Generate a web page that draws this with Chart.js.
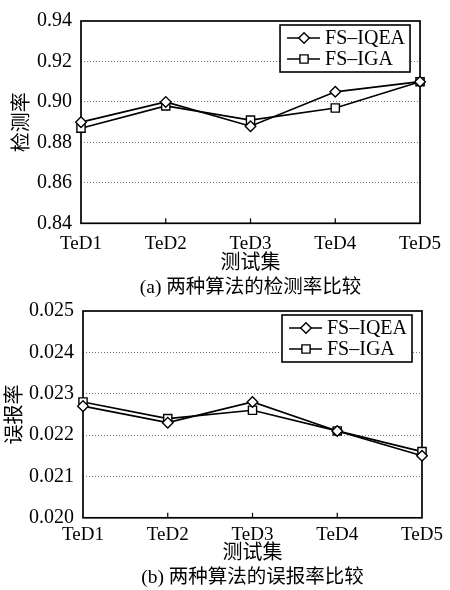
<!DOCTYPE html>
<html><head><meta charset="utf-8">
<script src="https://cdn.jsdelivr.net/npm/chart.js@4/dist/chart.umd.min.js"></script>
<style>
html,body{margin:0;padding:0;background:#fff;}
#wrap{position:relative;width:450px;height:590px;overflow:hidden;}
canvas{position:absolute;left:0;}
#c1{top:0;} #c2{top:290px;}
</style></head><body>
<div id="wrap"><canvas id="c1" width="450" height="300"></canvas><canvas id="c2" width="450" height="300"></canvas></div>
<script>
const categories = ['TeD1','TeD2','TeD3','TeD4','TeD5'];
const seriesNames = ['FS\u2013IQEA','FS\u2013IGA'];
const detectIQEA = [0.890, 0.900, 0.888, 0.905, 0.910];
const detectIGA  = [0.887, 0.898, 0.891, 0.897, 0.910];
const falseIQEA  = [0.0227, 0.0223, 0.0228, 0.0221, 0.0215];
const falseIGA   = [0.0228, 0.0224, 0.0226, 0.0221, 0.0216];
const detectTicks = [0.84, 0.86, 0.88, 0.90, 0.92, 0.94];
const detectTickLabels = ['0.84','0.86','0.88','0.90','0.92','0.94'];
const falseTicks = [0.020, 0.021, 0.022, 0.023, 0.024, 0.025];
const falseTickLabels = ['0.020','0.021','0.022','0.023','0.024','0.025'];
const xTitle = '测试集';
const captionA = '(a) 两种算法的检测率比较';
const captionB = '(b) 两种算法的误报率比较';
const yTitleA = '检测率';
const yTitleB = '误报率';

const FAM = "'Liberation Serif', 'Noto Sans CJK SC', serif";

function drawMarker(ctx, style, x, y, r) {
  ctx.beginPath();
  if (style === 'rectRot') {
    ctx.moveTo(x, y - r); ctx.lineTo(x + r, y); ctx.lineTo(x, y + r); ctx.lineTo(x - r, y); ctx.closePath();
  } else {
    const s = r * Math.SQRT1_2;
    ctx.rect(x - s, y - s, 2 * s, 2 * s);
  }
  ctx.fillStyle = '#fff'; ctx.fill();
  ctx.lineWidth = 1.4; ctx.strokeStyle = '#000'; ctx.stroke();
}

const framePlugin = {
  id: 'frameLegend',
  beforeDatasetsDraw(chart) {
    const a = chart.chartArea, ctx = chart.ctx;
    ctx.save();
    ctx.strokeStyle = '#000'; ctx.lineWidth = 1.7;
    ctx.strokeRect(a.left, a.top, a.right - a.left, a.bottom - a.top);
    const xs = chart.scales.x;
    ctx.lineWidth = 1.2;
    for (let i = 1; i < categories.length - 1; i++) {
      const px = xs.getPixelForValue(i);
      ctx.beginPath(); ctx.moveTo(px, a.bottom); ctx.lineTo(px, a.bottom - 5); ctx.stroke();
    }
    ctx.restore();
  },
  afterDatasetsDraw(chart) {
    const a = chart.chartArea, ctx = chart.ctx;
    const w = 130, h = 47;
    const bx = a.right - 10 - w, by = a.top + 4;
    ctx.save();
    ctx.fillStyle = '#fff'; ctx.fillRect(bx, by, w, h);
    ctx.strokeStyle = '#000'; ctx.lineWidth = 1.6; ctx.strokeRect(bx, by, w, h);
    chart.data.datasets.forEach((ds, i) => {
      const cy = by + 13 + i * 21;
      ctx.strokeStyle = '#000'; ctx.lineWidth = 1.7;
      ctx.beginPath(); ctx.moveTo(bx + 7, cy); ctx.lineTo(bx + 40, cy); ctx.stroke();
      drawMarker(ctx, ds.pointStyle, bx + 24, cy, ds.pointRadius);
      ctx.fillStyle = '#000'; ctx.font = '20px ' + FAM;
      ctx.textAlign = 'left'; ctx.textBaseline = 'middle';
      ctx.fillText(ds.label, bx + 45, cy + 1);
    });
    ctx.restore();
  }
};

function makeChart(id, cfg) {
  const last = cfg.ticks.length - 1;
  return new Chart(document.getElementById(id), {
    type: 'line',
    data: {
      labels: categories,
      datasets: [
        {label: seriesNames[0], data: cfg.s1, borderColor: '#000', borderWidth: 1.7,
         pointStyle: 'rectRot', pointRadius: 5.3, pointBackgroundColor: '#fff', pointBorderColor: '#000', pointBorderWidth: 1.4, tension: 0, fill: false},
        {label: seriesNames[1], data: cfg.s2, borderColor: '#000', borderWidth: 1.7,
         pointStyle: 'rect', pointRadius: 5.8, pointBackgroundColor: '#fff', pointBorderColor: '#000', pointBorderWidth: 1.4, tension: 0, fill: false}
      ]
    },
    options: {
      responsive: false, animation: false, devicePixelRatio: 1,
      layout: {padding: {top: 15, right: 28, left: 0, bottom: 0}},
      plugins: {
        legend: {display: false}, tooltip: {enabled: false},
        title: {display: true, fullSize: false, position: 'bottom', text: cfg.caption, color: '#000',
                font: {family: FAM, size: 19.5, weight: 'normal', lineHeight: 1.2}, padding: {top: 0, bottom: 0.8}}
      },
      scales: {
        x: {
          type: 'category', offset: false,
          grid: {display: false, drawTicks: false}, border: {display: false},
          ticks: {color: '#000', font: {family: FAM, size: 19}, padding: cfg.xPad, maxRotation: 0, minRotation: 0, autoSkip: false},
          title: {display: true, text: xTitle, color: '#000', font: {family: FAM, size: 20, lineHeight: 1.2}, padding: {top: 0, bottom: 0}},
          afterFit: s => { s.height = cfg.xH; }
        },
        y: {
          min: cfg.ticks[0], max: cfg.ticks[last],
          afterBuildTicks: s => { s.ticks = cfg.ticks.map(v => ({value: v})); },
          ticks: {color: '#000', font: {family: FAM, size: 20}, padding: 9, callback: (v, i) => cfg.tickLabels[i]},
          grid: {drawTicks: false, lineWidth: 1, color: c => (c.index === 0 || c.index === last) ? 'rgba(0,0,0,0)' : '#777'},
          border: {display: false, dash: [1, 2]},
          title: {display: true, text: cfg.yTitle, color: '#000', font: {family: FAM, size: 20, lineHeight: 1.2}, padding: {top: cfg.yTitlePad, bottom: 0}},
          afterFit: s => { s.width = cfg.yW; }
        }
      }
    },
    plugins: [framePlugin]
  });
}

makeChart('c1', {s1: detectIQEA, s2: detectIGA, ticks: detectTicks, tickLabels: detectTickLabels,
  caption: captionA, yTitle: yTitleA, xPad: 9, xH: 52.5, yW: 81, yTitlePad: 11});
makeChart('c2', {s1: falseIQEA, s2: falseIGA, ticks: falseTicks, tickLabels: falseTickLabels,
  caption: captionB, yTitle: yTitleB, xPad: 5.5, xH: 48, yW: 83, yTitlePad: 4});
</script>
</body></html>
